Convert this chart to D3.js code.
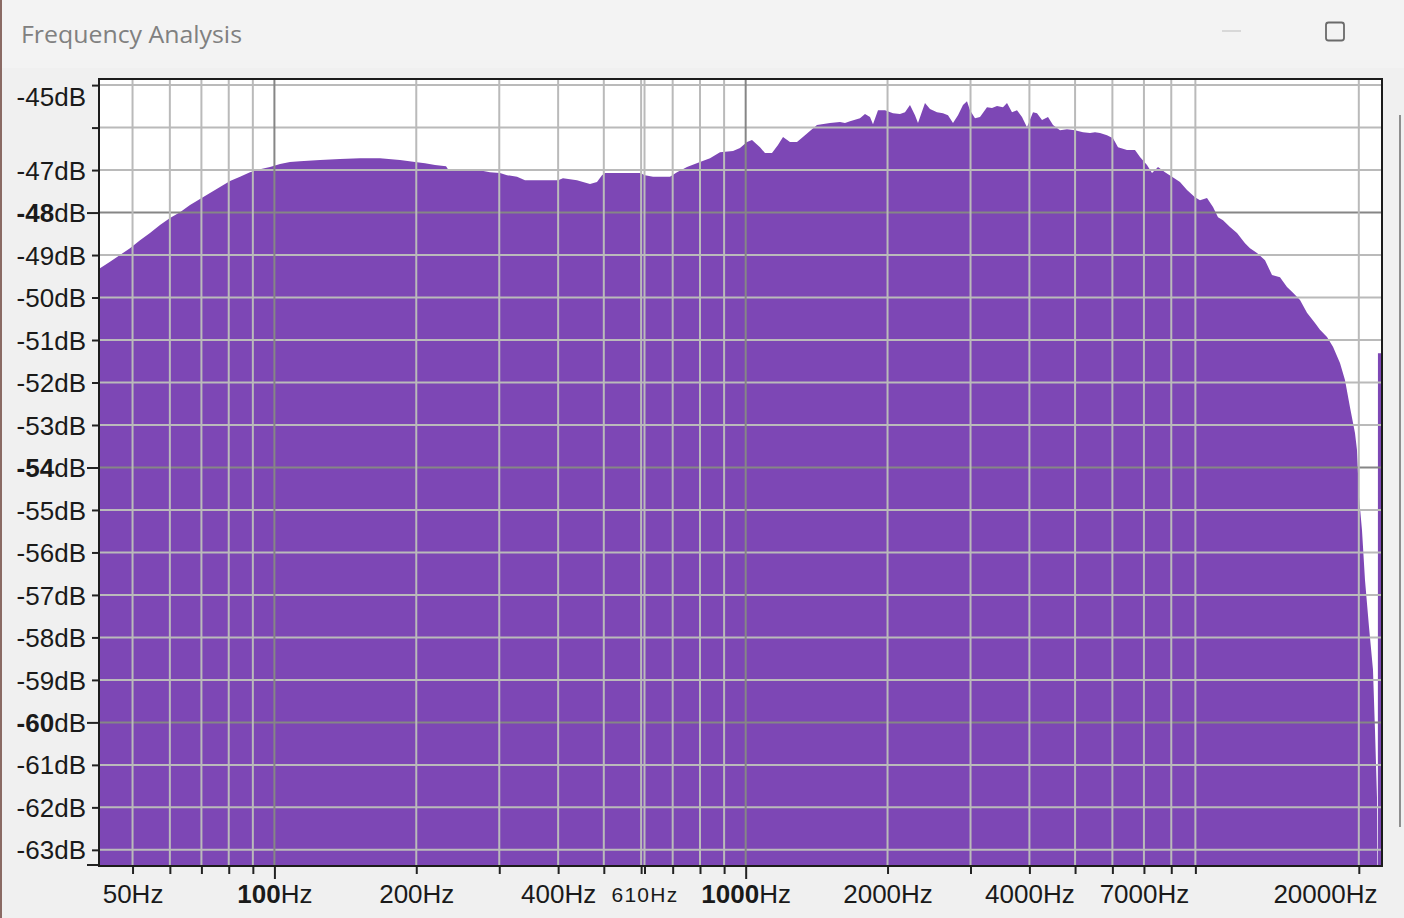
<!DOCTYPE html>
<html><head><meta charset="utf-8">
<script src="https://cdn.jsdelivr.net/npm/d3@7"></script>
<style>html,body{margin:0;padding:0;background:#f0f0f0;overflow:hidden}</style>
</head><body><svg id="c" width="1404" height="918"></svg>
<script>
// ---- data ----
const spectrumHz = [42.65,44.79,47.03,49.38,51.86,54.45,57.18,60.04,63.05,66.21,69.52,73.00,76.66,80.50,84.53,88.76,93.21,97.87,102.8,107.9,113.3,125.0,137.8,151.9,167.5,184.7,198.8,208.7,219.2,231.3,233.5,270.4,286.7,301.1,311.6,327.2,340.2,399.7,409.6,438.6,451.7,467.4,483.6,495.6,502.9,596.7,611.5,635.9,690.9,715.0,750.8,800.0,840.1,882.1,940.0,972.7,1006.5,1031.4,1072.5,1099.0,1137.3,1171.1,1200.1,1241.8,1285.0,1336.2,1382.7,1416.9,1509.8,1585.4,1624.6,1664.8,1748.2,1791.4,1835.7,1862.8,1908.9,1975.3,2054.0,2125.5,2178.1,2231.9,2287.1,2320.9,2401.6,2461.0,2546.7,2622.4,2687.3,2753.8,2821.9,2891.7,2948.7,2992.3,3066.3,3142.1,3251.4,3331.9,3414.3,3515.8,3585.2,3673.9,3764.8,3857.9,3953.3,4070.9,4151.3,4253.9,4380.5,4488.8,4645.0,4806.6,4998.2,5197.4,5378.3,5511.3,5647.6,5844.1,6018.0,6166.8,6444.0,6700.8,6866.5,7105.5,7281.2,7497.8,7758.6,8028.6,8348.6,8639.1,8983.4,9205.6,9525.9,9809.4,10052,10301,10659,11030,11470,11753,12162,12647,13087,13608,14082,14501,15006,15527,16146,16545,17121,17630,18243,18694,19156,19439,19630,19823,20018,20313,20613,21020,21435,21645,21857,21890,21950,21960,22400];
const spectrumDb = [-49.31,-49.16,-49.00,-48.84,-48.65,-48.48,-48.29,-48.13,-47.99,-47.82,-47.68,-47.54,-47.40,-47.26,-47.16,-47.05,-46.98,-46.93,-46.86,-46.81,-46.79,-46.76,-46.74,-46.72,-46.72,-46.76,-46.81,-46.84,-46.88,-46.91,-46.98,-47.00,-47.05,-47.07,-47.12,-47.16,-47.24,-47.24,-47.19,-47.24,-47.28,-47.33,-47.28,-47.12,-47.07,-47.07,-47.12,-47.16,-47.16,-47.05,-46.93,-46.81,-46.72,-46.58,-46.55,-46.48,-46.34,-46.29,-46.46,-46.60,-46.60,-46.41,-46.22,-46.34,-46.34,-46.18,-46.04,-45.94,-45.89,-45.87,-45.89,-45.85,-45.78,-45.68,-45.75,-45.92,-45.59,-45.59,-45.66,-45.68,-45.64,-45.47,-45.71,-45.89,-45.42,-45.56,-45.64,-45.66,-45.71,-45.89,-45.71,-45.47,-45.38,-45.59,-45.78,-45.75,-45.52,-45.54,-45.49,-45.52,-45.42,-45.64,-45.59,-45.75,-45.99,-45.64,-45.66,-45.82,-45.75,-45.94,-46.06,-46.04,-46.06,-46.11,-46.13,-46.11,-46.13,-46.18,-46.25,-46.46,-46.53,-46.53,-46.69,-46.88,-47.07,-46.93,-47.05,-47.16,-47.28,-47.47,-47.64,-47.71,-47.66,-47.87,-48.11,-48.18,-48.34,-48.48,-48.72,-48.84,-48.95,-49.12,-49.47,-49.52,-49.75,-49.89,-50.06,-50.36,-50.60,-50.76,-50.93,-51.16,-51.54,-51.94,-52.58,-52.95,-53.19,-53.59,-54.69,-55.47,-56.65,-57.75,-58.76,-60.18,-61.75,-70,-70,-51.31,-51.31];
const dbTicks = [-45,-46,-47,-48,-49,-50,-51,-52,-53,-54,-55,-56,-57,-58,-59,-60,-61,-62,-63];
const dbLabelled = [-45,-47,-48,-49,-50,-51,-52,-53,-54,-55,-56,-57,-58,-59,-60,-61,-62,-63];
const dbMajor = [-48,-54,-60];
const hzTicks = [50,60,70,80,90,100,200,300,400,500,600,610,700,800,900,1000,2000,3000,4000,5000,6000,7000,8000,9000,20000];
const hzLabelled = [50,100,200,400,610,1000,2000,4000,7000,20000];
const hzMajor = [100,1000];
const freqDomain = [42.65, 22400];
const dbDomain = [-63.38, -44.88];
const titleText = "Frequency Analysis";

// ---- layout ----
const L = 100, R = 1382, T = 80, B = 866;
const svg = d3.select("#c");
svg.append("rect").attr("x",0).attr("y",0).attr("width",1404).attr("height",918).attr("fill","#f0f0f0");
svg.append("rect").attr("x",0).attr("y",0).attr("width",1404).attr("height",68).attr("fill","#f3f3f3");
svg.append("rect").attr("x",0).attr("y",0).attr("width",2).attr("height",918).attr("fill","#8a6a64");
svg.append("line").attr("x1",1400).attr("x2",1400).attr("y1",115).attr("y2",827).attr("stroke","#8e8e8e").attr("stroke-width",2);

// title bar
svg.append("text").attr("x",21).attr("y",43).text(titleText)
  .attr("font-family","'Open Sans','Noto Sans',sans-serif").attr("font-size",24)
  .attr("fill","#808080").attr("textLength",221).attr("lengthAdjust","spacingAndGlyphs");
svg.append("line").attr("x1",1222).attr("x2",1241).attr("y1",31).attr("y2",31).attr("stroke","#cfcfcf").attr("stroke-width",1.5);
svg.append("rect").attr("x",1326).attr("y",22.5).attr("width",18).attr("height",18).attr("rx",2.5)
  .attr("fill","none").attr("stroke","#6a6a6a").attr("stroke-width",1.8);

const x = d3.scaleLog().domain(freqDomain).range([L, R]);
const y = d3.scaleLinear().domain(dbDomain).range([B, T]).clamp(true);

svg.append("rect").attr("x",L).attr("y",T).attr("width",R-L).attr("height",B-T).attr("fill","#ffffff");
svg.append("clipPath").attr("id","plotclip").append("rect").attr("x",L).attr("y",T).attr("width",R-L).attr("height",B-T);

const data = spectrumHz.map((f,i)=>({f, v: spectrumDb[i]}));
const area = d3.area().x(d=>x(d.f)).y0(B).y1(d=>y(d.v)).curve(d3.curveLinear);
svg.append("path").datum(data).attr("d",area).attr("fill","#7d47b5").attr("clip-path","url(#plotclip)");

// grid
const g = svg.append("g").attr("clip-path","url(#plotclip)");
g.selectAll("line.h").data(dbTicks).join("line")
  .attr("x1",L).attr("x2",R).attr("y1",d=>y(d)).attr("y2",d=>y(d))
  .attr("stroke",d=>dbMajor.includes(d)?"#868686":"#bababa").attr("stroke-width",2);
g.selectAll("line.v").data(hzTicks).join("line")
  .attr("y1",T).attr("y2",B).attr("x1",d=>x(d)).attr("x2",d=>x(d))
  .attr("stroke",d=>hzMajor.includes(d)?"#868686":"#bababa").attr("stroke-width",2);

const font = "'Liberation Sans', Arial, sans-serif";

// y axis
const yAxis = d3.axisLeft(y).tickValues(dbTicks).tickSize(7).tickPadding(6).tickFormat(()=>"");
const ya = svg.append("g").attr("transform",`translate(${L-1},0)`).call(yAxis);
ya.select(".domain").remove();
ya.selectAll(".tick line").attr("stroke","#222").attr("stroke-width",2)
  .attr("x2",d=>dbMajor.includes(d)?-12:-7);
ya.selectAll(".tick text").each(function(d){
  const t = d3.select(this);
  t.text(null);
  if(!dbLabelled.includes(d)) return;
  t.attr("x",-13).attr("dy", d===-45 ? "0.8em" : "0.35em")
   .attr("text-anchor","end").attr("font-family",font).attr("font-size",26).attr("fill","#1a1a1a");
  const num = String(d);
  t.append("tspan").attr("font-weight",dbMajor.includes(d)?"bold":"normal").text(num);
  t.append("tspan").text("dB");
});
svg.append("line").attr("x1",87).attr("x2",L).attr("y1",B-1).attr("y2",B-1).attr("stroke","#222").attr("stroke-width",2);

// x axis
const xAxis = d3.axisBottom(x).tickValues(hzTicks).tickSize(8).tickFormat(()=>"");
const xa = svg.append("g").attr("transform",`translate(0,${B})`).call(xAxis);
xa.select(".domain").remove();
xa.selectAll(".tick line").attr("stroke","#222").attr("stroke-width",2)
  .attr("y2",d=>hzMajor.includes(d)?13:8);
xa.selectAll(".tick text").each(function(d){
  const t = d3.select(this);
  t.text(null);
  if(!hzLabelled.includes(d)) return;
  const small = d===610;
  t.attr("y", small?35.5:37).attr("dy",0).attr("font-family",font)
   .attr("font-size", small?21:26).attr("fill","#1a1a1a")
   .attr("letter-spacing", small?1.3:0);
  if(d===20000){ t.attr("text-anchor","end").attr("x", 1377 - x(d)); }
  else t.attr("text-anchor","middle");
  t.append("tspan").attr("font-weight",hzMajor.includes(d)?"bold":"normal").text(String(d));
  t.append("tspan").text("Hz");
});

// border
svg.append("rect").attr("x",L-1).attr("y",T-1).attr("width",R-L+1).attr("height",B-T+1)
  .attr("fill","none").attr("stroke","#1c1c1c").attr("stroke-width",2);
</script></body></html>
